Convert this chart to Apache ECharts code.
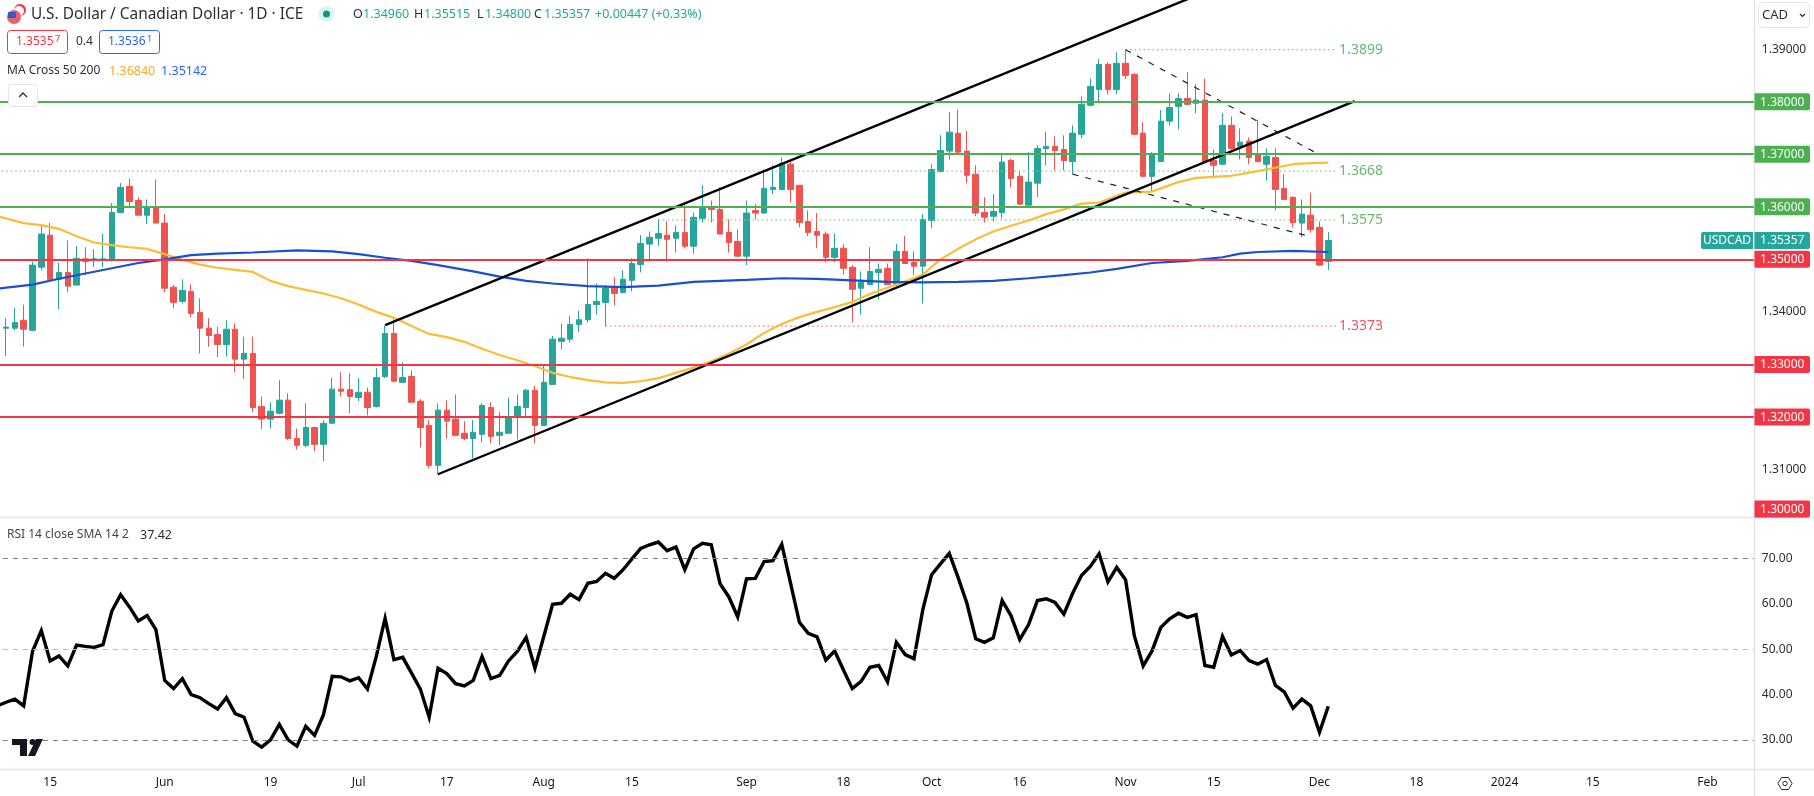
<!DOCTYPE html>
<html>
<head>
    <meta charset="UTF-8"/>
    <title>USDCAD</title>
    <script src="https://cdn.jsdelivr.net/npm/echarts@6/dist/echarts.min.js"></script>
    <style>
        html, body {margin: 0; padding: 0; background: #fff; overflow: hidden;}
        #main {width: 1814px; height: 796px;}
    </style>
</head>
<body>
<div id="main"></div>
<script type="text/javascript">
    // daily bars: [open, close, low, high]. first row is the bar cut by the left edge
    var candles = [
        [1.3540,1.3370,1.3370,1.3540],
        [1.3369,1.3371,1.3316,1.3388],[1.3369,1.3380,1.3365,1.3407],[1.3384,1.3367,1.3334,1.3414],[1.3365,1.3489,1.3363,1.3496],
        [1.3485,1.3548,1.3479,1.3565],[1.3546,1.3462,1.3458,1.3569],[1.3462,1.3475,1.3405,1.3494],[1.3475,1.3449,1.3437,1.3536],
        [1.3451,1.3502,1.3451,1.3525],[1.3501,1.3496,1.3470,1.3523],[1.3499,1.3501,1.3485,1.3519],[1.3499,1.3501,1.3485,1.3549],
        [1.3500,1.3589,1.3496,1.3607],[1.3589,1.3637,1.3588,1.3645],[1.3639,1.3610,1.3601,1.3654],[1.3612,1.3584,1.3584,1.3618],
        [1.3584,1.3599,1.3567,1.3614],[1.3599,1.3569,1.3569,1.3652],[1.3569,1.3445,1.3437,1.3586],[1.3447,1.3418,1.3407,1.3451],
        [1.3420,1.3441,1.3416,1.3462],[1.3439,1.3397,1.3390,1.3452],[1.3399,1.3369,1.3321,1.3426],[1.3369,1.3355,1.3334,1.3388],
        [1.3357,1.3338,1.3314,1.3371],[1.3338,1.3367,1.3315,1.3384],[1.3367,1.3310,1.3285,1.3378],[1.3310,1.3321,1.3272,1.3353],
        [1.3321,1.3218,1.3209,1.3353],[1.3220,1.3196,1.3177,1.3239],[1.3196,1.3211,1.3178,1.3228],[1.3207,1.3232,1.3205,1.3270],
        [1.3232,1.3159,1.3156,1.3245],[1.3159,1.3146,1.3138,1.3178],[1.3146,1.3180,1.3142,1.3226],[1.3180,1.3148,1.3135,1.3180],
        [1.3148,1.3188,1.3116,1.3194],[1.3188,1.3253,1.3188,1.3275],[1.3253,1.3249,1.3239,1.3285],[1.3252,1.3239,1.3207,1.3283],
        [1.3237,1.3247,1.3230,1.3274],[1.3247,1.3218,1.3203,1.3256],[1.3220,1.3275,1.3218,1.3293],[1.3277,1.3359,1.3274,1.3374],
        [1.3359,1.3268,1.3266,1.3386],[1.3266,1.3275,1.3266,1.3304],[1.3277,1.3228,1.3228,1.3289],[1.3230,1.3180,1.3142,1.3234],
        [1.3184,1.3108,1.3102,1.3194],[1.3108,1.3213,1.3091,1.3226],[1.3213,1.3192,1.3159,1.3232],[1.3196,1.3165,1.3165,1.3243],
        [1.3169,1.3159,1.3156,1.3192],[1.3159,1.3171,1.3121,1.3194],[1.3167,1.3222,1.3152,1.3226],[1.3218,1.3163,1.3150,1.3228],
        [1.3165,1.3171,1.3146,1.3209],[1.3169,1.3199,1.3169,1.3237],[1.3201,1.3220,1.3157,1.3243],[1.3218,1.3251,1.3201,1.3253],
        [1.3251,1.3184,1.3150,1.3260],[1.3184,1.3266,1.3184,1.3298],[1.3262,1.3348,1.3262,1.3354],[1.3344,1.3350,1.3329,1.3378],
        [1.3348,1.3376,1.3342,1.3392],[1.3376,1.3385,1.3362,1.3402],[1.3385,1.3414,1.3380,1.3502],[1.3414,1.3420,1.3395,1.3454],
        [1.3418,1.3445,1.3373,1.3451],[1.3445,1.3435,1.3412,1.3466],[1.3437,1.3462,1.3435,1.3479],[1.3460,1.3492,1.3439,1.3502],
        [1.3490,1.3530,1.3475,1.3546],[1.3529,1.3542,1.3496,1.3553],[1.3540,1.3549,1.3525,1.3576],[1.3546,1.3538,1.3496,1.3572],
        [1.3540,1.3551,1.3513,1.3565],[1.3551,1.3525,1.3521,1.3605],[1.3525,1.3580,1.3510,1.3589],[1.3578,1.3597,1.3570,1.3641],
        [1.3598,1.3595,1.3570,1.3612],[1.3595,1.3548,1.3548,1.3637],[1.3551,1.3532,1.3513,1.3576],[1.3534,1.3506,1.3504,1.3557],
        [1.3506,1.3588,1.3489,1.3612],[1.3593,1.3588,1.3576,1.3605],[1.3588,1.3635,1.3588,1.3671],[1.3633,1.3637,1.3624,1.3679],
        [1.3633,1.3683,1.3633,1.3694],[1.3681,1.3633,1.3608,1.3690],[1.3641,1.3570,1.3561,1.3641],[1.3572,1.3551,1.3544,1.3593],
        [1.3553,1.3546,1.3521,1.3588],[1.3548,1.3504,1.3494,1.3553],[1.3504,1.3521,1.3494,1.3549],[1.3521,1.3483,1.3471,1.3529],
        [1.3485,1.3443,1.3380,1.3489],[1.3445,1.3456,1.3395,1.3477],[1.3452,1.3477,1.3452,1.3523],[1.3475,1.3481,1.3424,1.3492],
        [1.3483,1.3452,1.3452,1.3492],[1.3452,1.3515,1.3449,1.3529],[1.3515,1.3492,1.3492,1.3544],[1.3494,1.3487,1.3470,1.3515],
        [1.3487,1.3576,1.3416,1.3586],[1.3574,1.3671,1.3559,1.3681],[1.3667,1.3707,1.3667,1.3736],[1.3706,1.3742,1.3690,1.3780],
        [1.3740,1.3704,1.3704,1.3785],[1.3706,1.3660,1.3645,1.3745],[1.3662,1.3588,1.3582,1.3679],[1.3589,1.3580,1.3570,1.3618],
        [1.3582,1.3591,1.3572,1.3624],[1.3589,1.3685,1.3578,1.3700],[1.3688,1.3654,1.3637,1.3692],[1.3658,1.3605,1.3605,1.3669],
        [1.3603,1.3647,1.3603,1.3704],[1.3645,1.3711,1.3618,1.3717],[1.3711,1.3715,1.3679,1.3742],[1.3715,1.3707,1.3669,1.3734],
        [1.3709,1.3688,1.3669,1.3736],[1.3686,1.3740,1.3662,1.3755],[1.3738,1.3795,1.3730,1.3810],[1.3793,1.3829,1.3791,1.3844],
        [1.3823,1.3871,1.3797,1.3881],[1.3871,1.3823,1.3814,1.3875],[1.3823,1.3873,1.3814,1.3894],[1.3873,1.3850,1.3843,1.3899],
        [1.3852,1.3738,1.3736,1.3854],[1.3740,1.3658,1.3656,1.3761],[1.3658,1.3700,1.3629,1.3704],[1.3686,1.3763,1.3686,1.3784],
        [1.3763,1.3789,1.3755,1.3816],[1.3791,1.3806,1.3747,1.3816],[1.3806,1.3795,1.3793,1.3856],[1.3797,1.3803,1.3778,1.3833],
        [1.3803,1.3686,1.3684,1.3844],[1.3688,1.3679,1.3654,1.3709],[1.3681,1.3755,1.3679,1.3778],[1.3755,1.3711,1.3709,1.3772],
        [1.3715,1.3723,1.3690,1.3749],[1.3725,1.3694,1.3681,1.3732],[1.3700,1.3686,1.3686,1.3766],[1.3681,1.3696,1.3650,1.3711],
        [1.3694,1.3633,1.3593,1.3711],[1.3635,1.3614,1.3614,1.3662],[1.3618,1.3570,1.3561,1.3620],[1.3569,1.3586,1.3542,1.3614],
        [1.3584,1.3557,1.3551,1.3627],[1.3561,1.3489,1.3487,1.3572],[1.3496,1.35357,1.3480,1.35515]
    ];

    // moving averages and trend lines: [day, price], day 0 is the first whole bar
    var ma50 = [[-1,1.3582],[2,1.3569],[4,1.3565],[6,1.3558],[8,1.3544],[10,1.3532],[12,1.3527],[14,1.3523],[16,1.3520],[18,1.3510],
        [20,1.3499],[22,1.3490],[24,1.3484],[26,1.3480],[28,1.3476],[30,1.3459],[32,1.3449],[34,1.3442],[36,1.3435],[38,1.3426],
        [40,1.3414],[42,1.3400],[44,1.3389],[46,1.3373],[48,1.3358],[50,1.3352],[52,1.3343],[54,1.3330],[56,1.3318],[58,1.3308],
        [60,1.3297],[62,1.3284],[64,1.3276],[66,1.3270],[68,1.3266],[70,1.3265],[72,1.3268],[74,1.3274],[76,1.3284],[78,1.3294],
        [80,1.3306],[82,1.3321],[84,1.3338],[86,1.3360],[88,1.3377],[90,1.3390],[92,1.3400],[94,1.3409],[96,1.3419],[98,1.3434],
        [100,1.3446],[102,1.3458],[104,1.3471],[106,1.3500],[108,1.3520],[110,1.3538],[112,1.3553],[114,1.3564],[116,1.3574],[118,1.3586],
        [120,1.3595],[122,1.3606],[124,1.3608],[127,1.3627],[130,1.3629],[131,1.3635],[133,1.3647],[135,1.3655],[139,1.3659],[142,1.3668],
        [146,1.3681],[148,1.3683],[150,1.3684]];
    var ma200 = [[-1,1.3444],[3,1.3452],[6,1.3463],[9,1.3473],[12,1.3483],[15,1.3493],[18,1.3500],[21,1.3508],[24,1.3511],[28,1.3513],
        [33,1.3517],[37,1.3515],[40,1.3510],[43,1.3503],[46,1.3497],[49,1.3489],[53,1.3477],[56,1.3467],[59,1.3459],[62,1.3454],
        [66,1.3449],[70,1.3447],[74,1.3450],[78,1.3457],[84,1.3461],[88,1.3464],[92,1.3463],[96,1.3460],[100,1.3457],[104,1.3456],
        [108,1.3457],[112,1.3459],[116,1.3464],[120,1.3470],[123,1.3475],[126,1.3482],[130,1.3493],[134,1.3497],[138,1.3504],[140,1.3511],
        [142,1.3514],[146,1.3516],[150,1.3514]];
    var channelUpper = [[43,1.3375],[136,1.40085]];
    var channelLower = [[49,1.3091],[153,1.3801]];
    var wedgeUpper = [[127,1.3899],[149,1.3699]];
    var wedgeLower = [[121,1.3662],[148,1.3543]];

    // rsi, one value per bar, same order as candles
    var rsi = [37.5,38.3,39,37.5,49.5,54.1,47.4,48.5,46.3,50.9,50.6,50.4,51,58.4,62,59.3,56.2,57.4,54.3,43.1,41.3,43.5,
        40,39.3,38,36.8,39.3,35.8,35,29.7,28.4,30,33.4,30,28.6,33,31,35.5,44,43.9,43,43.7,41.2,48.4,56.8,47.7,48.2,44.7,41.2,
        35,45.8,44.6,42.4,41.9,43.1,48.4,43.5,44.2,47.4,49.5,52.6,45.8,52.8,59.9,60.1,62.1,60.9,64.5,64.9,66.7,65.6,67.5,69.9,
        72.2,73,73.6,71.7,72.5,67.5,72.1,73.3,73,64.4,61.5,57.1,65.5,65.6,69.3,69.5,73.1,64.5,55.9,53.5,52.7,47.6,49.6,45.4,
        41.3,42.9,46,46.4,42.8,51.5,48.8,47.9,58.7,66.4,68.8,71.1,65.8,60.1,52.3,51.5,52.5,60.7,57.4,52.1,55.4,60.7,61.1,60.3,
        57.7,62.3,66.2,68.2,71,64.8,68,65.3,52.9,46.3,49.6,54.8,56.7,57.9,57,57.6,46.4,46,52.8,48.7,49.7,47.5,46.7,47.7,42,
        40.6,37,39,37.5,31.7,37.42];

    // time scale
    var tickDays = [5,18,30,40,50,61,71,84,95,105,115,127,137,149,160,170,180,193];
    var tickLabels = ['15','Jun','19','Jul','17','Aug','15','Sep','18','Oct','16','Nov','15','Dec','18','2024','15','Feb'];

    // price scale
    var priceTicks = [1.31,1.34,1.39];
    var greenLevels = [1.38,1.37,1.36];
    var redLevels = [1.35,1.33,1.32,1.30];
    var lastPrice = 1.35357;
    var pivotNames = ['1.3899','1.3668','1.3575','1.3373'];
    var pivotValues = [1.3899,1.3668,1.3575,1.3373];
    var pivotStart = [127,-1,74,68];
    var pivotEnd = 151;

    // rsi scale
    var rsiTicks = [30,40,50,60,70];

    var UP = '#26a69a', DOWN = '#ef5350', GREEN = '#4caf50', RED = '#f23645', BORDER = '#e0e3eb', INK = '#2a2e39';
    var FONT = '"Noto Sans", sans-serif';
    var PRICE_MIN = 1.30091, PRICE_MAX = 1.39935;
    var BAR_COUNT = 200, AXIS_X = 1754.5;

    var categories = [];
    for (var i = 0; i < BAR_COUNT; i++) {
        var t = tickDays.indexOf(i - 1);
        categories.push(t >= 0 ? tickLabels[t] : '');
    }
    function shift(points) {
        return points.map(function (p) { return [p[0] + 1, p[1]]; });
    }
    function plainLine(name, points, color, width, type) {
        return {
            name: name, type: 'line', xAxisIndex: 0, yAxisIndex: 0, data: shift(points),
            showSymbol: false, symbol: 'none', silent: true, z: 4,
            lineStyle: {color: color, width: width, type: type || 'solid'}
        };
    }

    var series = [{
        name: 'USDCAD', type: 'candlestick', xAxisIndex: 0, yAxisIndex: 0, data: candles,
        barWidth: 6, z: 2, silent: true,
        itemStyle: {color: UP, color0: DOWN, borderColor: UP, borderColor0: DOWN, borderWidth: 1},
        markLine: {
            silent: true, symbol: 'none', animation: false, label: {show: false},
            data: greenLevels.map(function (v) { return {yAxis: v, lineStyle: {color: GREEN, width: 2, type: 'solid'}}; })
                .concat(redLevels.filter(function (v) { return v > PRICE_MIN; }).map(function (v) {
                    return {yAxis: v, lineStyle: {color: RED, width: 2, type: 'solid'}};
                }))
        }
    },
        plainLine('MA 50', ma50, '#fbbd34', 2.2),
        plainLine('MA 200', ma200, '#1a4fd0', 2.2),
        plainLine('channel upper', channelUpper, '#000', 2.4),
        plainLine('channel lower', channelLower, '#000', 2.4),
        plainLine('wedge upper', wedgeUpper, '#222', 1.2, [6, 7]),
        plainLine('wedge lower', wedgeLower, '#222', 1.2, [6, 7])
    ];
    pivotNames.forEach(function (name, n) {
        var isRed = pivotValues[n] < 1.35;
        var s = plainLine(name, [[pivotStart[n], pivotValues[n]], [pivotEnd, pivotValues[n]]], isRed ? '#f77c80' : '#81c784', 1.2, [1.5, 3]);
        s.z = 3;
        s.endLabel = {
            show: true, formatter: name, color: isRed ? '#f7525f' : '#66bb6a',
            fontSize: 14, fontFamily: FONT, distance: 2
        };
        series.push(s);
    });
    series.push({
        name: 'RSI', type: 'line', xAxisIndex: 1, yAxisIndex: 1, data: rsi,
        showSymbol: false, symbol: 'none', silent: true, z: 4,
        lineStyle: {color: '#000', width: 3.4, join: 'miter'},
        markLine: {
            silent: true, symbol: 'none', animation: false, label: {show: false},
            data: [
                {yAxis: 70, lineStyle: {color: '#787b86', width: 1, type: [5, 5]}},
                {yAxis: 50, lineStyle: {color: '#b2b5be', width: 1, type: [5, 5]}},
                {yAxis: 30, lineStyle: {color: '#787b86', width: 1, type: [5, 5]}}
            ]
        }
    });

    var option = {
        animation: false,
        backgroundColor: '#fff',
        grid: [
            {left: -7.17, top: 0, width: 1763, height: 517.3, outerBoundsMode: 'none'},
            {left: -7.17, top: 517.3, width: 1763, height: 252.1, outerBoundsMode: 'none'}
        ],
        xAxis: [
            {type: 'category', gridIndex: 0, data: categories, show: false},
            {
                type: 'category', gridIndex: 1, data: categories,
                axisLine: {show: false}, axisTick: {show: false}, splitLine: {show: false},
                axisLabel: {
                    interval: function (index, value) { return value !== ''; },
                    hideOverlap: false, margin: 7, color: '#131722', fontSize: 12, fontFamily: FONT
                }
            }
        ],
        yAxis: [
            {
                type: 'value', gridIndex: 0, position: 'right', min: PRICE_MIN, max: PRICE_MAX, z: 10,
                axisLine: {show: false}, axisTick: {show: false}, splitLine: {show: false},
                axisLabel: {
                    customValues: priceTicks, margin: 6, color: INK, fontSize: 12, fontFamily: FONT,
                    padding: [2, 0, 0, 0],
                    formatter: function (v) { return v.toFixed(5); }
                }
            },
            {
                type: 'value', gridIndex: 1, position: 'right', min: 23.5, max: 79.05, z: 10,
                axisLine: {show: false}, axisTick: {show: false}, splitLine: {show: false},
                axisLabel: {
                    customValues: rsiTicks, margin: 6, color: INK, fontSize: 12, fontFamily: FONT,
                    formatter: function (v) { return v.toFixed(2); }
                }
            }
        ],
        series: series
    };

    var myChart = echarts.init(document.getElementById('main'));
    myChart.setOption(option);

    // text helper for the header and the price tags
    function label(x, y, str, color, size, align) {
        return {
            type: 'text', x: x, y: y, z: 30, silent: true,
            style: {
                text: str, fill: color, font: size + 'px ' + FONT,
                textAlign: align || 'left', textVerticalAlign: 'middle'
            }
        };
    }
    function box(x, y, w, h, stroke, r) {
        return {
            type: 'rect', z: 30, silent: true, shape: {x: x, y: y, width: w, height: h, r: r || 3},
            style: {fill: '#fff', stroke: stroke, lineWidth: 1}
        };
    }
    function rule(x1, y1, x2, y2) {
        return {
            type: 'line', z: 8, silent: true, shape: {x1: x1, y1: y1, x2: x2, y2: y2},
            style: {stroke: BORDER, lineWidth: 1.4}
        };
    }

    var graphic = [
        {type: 'rect', z: 6, silent: true, shape: {x: AXIS_X, y: 0, width: 60, height: 796}, style: {fill: '#fff'}},
        rule(AXIS_X, 0, AXIS_X, 796),
        rule(0, 517.5, 1814, 517.5),
        rule(0, 769.5, 1814, 769.5),

        // header
        {type: 'circle', z: 30, silent: true, shape: {cx: 20, cy: 10, r: 6}, style: {fill: '#f23645'}},
        {type: 'circle', z: 30, silent: true, shape: {cx: 19, cy: 11, r: 5}, style: {fill: '#fff'}},
        {type: 'circle', z: 30, silent: true, shape: {cx: 14, cy: 17, r: 7}, style: {fill: '#e8626c'}},
        {type: 'rect', z: 30, silent: true, shape: {x: 8, y: 12, width: 8, height: 6}, style: {fill: '#3659c9'}},
        label(31, 14.5, 'U.S. Dollar / Canadian Dollar · 1D · ICE', INK, 15.4),
        {type: 'circle', z: 30, silent: true, shape: {cx: 326.5, cy: 14, r: 8}, style: {fill: '#dff3ef'}},
        {type: 'circle', z: 30, silent: true, shape: {cx: 326.5, cy: 14, r: 3.5}, style: {fill: '#089981'}},
        label(353, 14.5, 'O', INK, 12.5), label(363, 14.5, '1.34960', '#22ab94', 12.5),
        label(414, 14.5, 'H', INK, 12.5), label(424, 14.5, '1.35515', '#22ab94', 12.5),
        label(477, 14.5, 'L', INK, 12.5), label(485, 14.5, '1.34800', '#22ab94', 12.5),
        label(534, 14.5, 'C', INK, 12.5), label(544, 14.5, '1.35357', '#22ab94', 12.5),
        label(595, 14.5, '+0.00447 (+0.33%)', '#22ab94', 12.5),

        box(7.5, 30.5, 60, 23, RED),
        label(16, 42, '1.3535', RED, 12), label(55, 39, '7', RED, 9),
        label(76, 42, '0.4', INK, 12),
        box(99.5, 30.5, 60, 23, '#2962ff'),
        label(108, 42, '1.3536', '#2962ff', 12), label(147, 39, '1', '#2962ff', 9),

        label(7, 71, 'MA Cross 50 200', INK, 12),
        label(109, 71, '1.36840', '#ffa726', 12.5),
        label(161, 71, '1.35142', '#2962ff', 12.5),

        box(8.5, 84.5, 29, 22, BORDER),
        {type: 'polyline', z: 30, silent: true, shape: {points: [[19, 97], [23, 93], [27, 97]]}, style: {fill: 'none', stroke: INK, lineWidth: 1.3}},

        label(7, 535, 'RSI 14 close SMA 14 2', '#434651', 12),
        label(140, 535, '37.42', INK, 12.5),

        // currency selector
        box(1758.5, 2.5, 51, 25, BORDER, 5),
        label(1762, 15, 'CAD', INK, 13),
        {type: 'polyline', z: 30, silent: true, shape: {points: [[1800, 14], [1802.5, 16.5], [1805, 14]]}, style: {fill: 'none', stroke: INK, lineWidth: 1.2}},

        // logo in the rsi pane
        {type: 'polygon', z: 30, silent: true, shape: {points: [[12, 739], [27, 739], [27, 756], [20, 756], [20, 745], [12, 745]]}, style: {fill: '#131722'}},
        {type: 'circle', z: 30, silent: true, shape: {cx: 32.5, cy: 742, r: 3}, style: {fill: '#131722'}},
        {type: 'polygon', z: 30, silent: true, shape: {points: [[36, 739], [43, 739], [35, 756], [28, 756]]}, style: {fill: '#131722'}},

        // settings button
        {type: 'polygon', z: 30, silent: true, shape: {points: [[1778, 783.5], [1781.5, 777.5], [1788.5, 777.5], [1792, 783.5], [1788.5, 789.5], [1781.5, 789.5]]}, style: {fill: '#fff', stroke: INK, lineWidth: 1}},
        {type: 'circle', z: 30, silent: true, shape: {cx: 1785, cy: 783.5, r: 2.2}, style: {fill: '#fff', stroke: INK, lineWidth: 1}}
    ];

    // price tags sit on the scale, the lowest one gets pushed up inside the pane
    function priceTag(value, text, color, x, width, r) {
        var y = Math.min(myChart.convertToPixel({yAxisIndex: 0}, value), 509);
        return [{
            type: 'rect', z: 20, silent: true, shape: {x: x, y: y - 8.5, width: width, height: 17, r: r},
            style: {fill: color}
        }, label(x + width / 2, y + 0.5, text, '#fff', 12, 'center')];
    }
    greenLevels.forEach(function (v) { graphic = graphic.concat(priceTag(v, v.toFixed(5), GREEN, AXIS_X, 55.5, [0, 2, 2, 0])); });
    redLevels.forEach(function (v) { graphic = graphic.concat(priceTag(v, v.toFixed(5), RED, AXIS_X, 55.5, [0, 2, 2, 0])); });
    graphic = graphic.concat(priceTag(lastPrice, lastPrice.toFixed(5), UP, AXIS_X, 55.5, [0, 2, 2, 0]));
    graphic = graphic.concat(priceTag(lastPrice, 'USDCAD', UP, 1701, 52, [2, 0, 0, 2]));

    myChart.setOption({graphic: graphic});
</script>
</body>
</html>
